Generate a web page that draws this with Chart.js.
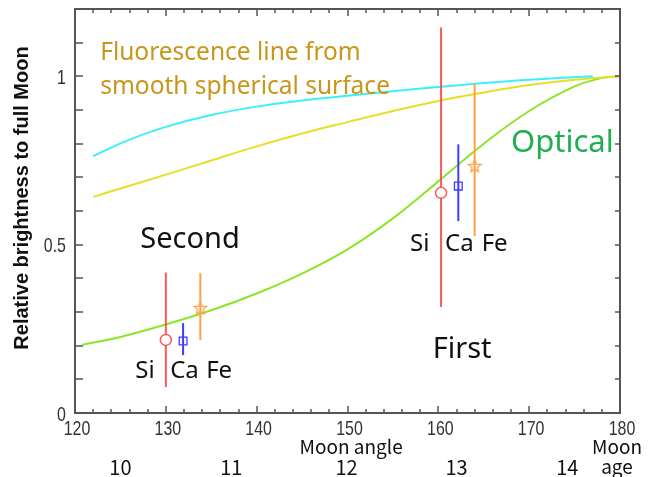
<!DOCTYPE html>
<html>
<head>
<meta charset="utf-8">
<script src="https://cdn.jsdelivr.net/npm/chart.js@4.4.0/dist/chart.umd.min.js"></script>
<style>
    html, body { margin: 0; padding: 0; background: #fff; }
</style>
</head>
<body>
<canvas id="myChart" width="649" height="477"></canvas>
<script>
// curves (moon angle in degrees -> brightness relative to full moon)
const cyanAngles = [122, 126, 130, 135, 140, 145, 150, 155, 160, 165, 170, 177];
const cyanValues = [0.763, 0.812, 0.850, 0.885, 0.910, 0.928, 0.942, 0.956, 0.968, 0.980, 0.990, 1.0];

const yellowAngles = [122, 126, 130, 135, 140, 145, 150, 155, 160, 165, 170, 175, 180];
const yellowValues = [0.642, 0.675, 0.708, 0.750, 0.792, 0.830, 0.864, 0.897, 0.927, 0.952, 0.974, 0.990, 1.0];

const opticalAngles = [120.8, 125, 130, 135, 140, 145, 150, 155, 160, 165, 170, 175, 178, 180];
const opticalValues = [0.203, 0.226, 0.263, 0.305, 0.355, 0.414, 0.486, 0.578, 0.688, 0.800, 0.897, 0.970, 0.995, 1.0];

// measurements: Second, First
const siAngle = [130.0, 160.3];
const siValue = [0.217, 0.654];
const siLow = [0.077, 0.315];
const siHigh = [0.417, 1.145];

const caAngle = [131.9, 162.2];
const caValue = [0.214, 0.674];
const caLow = [0.172, 0.570];
const caHigh = [0.267, 0.798];

const feAngle = [133.8, 164.0];
const feValue = [0.312, 0.734];
const feLow = [0.217, 0.525];
const feHigh = [0.415, 0.979];

// axis ticks
const angleTicks = [120, 130, 140, 150, 160, 170, 180];
const brightnessTicks = [0, 0.5, 1];
const moonAges = ['10', '11', '12', '13', '14'];
const moonAgeAngles = [125.0, 137.2, 149.9, 162.0, 174.2];

const red = 'rgba(255, 70, 70, 0.9)';
const blue = 'rgb(60, 60, 255)';
const orange = 'rgb(255, 160, 70)';

function points(xs, ys) {
    return xs.map((v, i) => ({x: v, y: ys[i]}));
}

function starImage(color) {
    let c = document.createElement('canvas');
    c.width = 16;
    c.height = 16;
    let g = c.getContext('2d');
    g.strokeStyle = color;
    g.lineWidth = 1.3;
    g.beginPath();
    for (let i = 0; i < 10; i++) {
        let r = i % 2 === 0 ? 6.5 : 2.8;
        let a = -Math.PI / 2 + i * Math.PI / 5;
        let px = 8 + r * Math.cos(a);
        let py = 8.5 + r * Math.sin(a);
        if (i === 0) g.moveTo(px, py); else g.lineTo(px, py);
    }
    g.closePath();
    g.stroke();
    return c;
}

const datasets = [];

// markers on top
datasets.push({
    data: points(siAngle, siValue), pointStyle: 'circle', pointRadius: 5.5,
    borderColor: red, backgroundColor: '#fff', pointBorderWidth: 1.5, showLine: false
});
datasets.push({
    data: points(caAngle, caValue), pointStyle: 'rect', pointRadius: 5.5,
    borderColor: blue, backgroundColor: 'rgba(255,255,255,0)', pointBorderWidth: 1.3, showLine: false
});
datasets.push({
    data: points(feAngle, feValue), pointStyle: starImage(orange), pointRadius: 7,
    borderColor: orange, showLine: false
});

// error bars
const bars = [
    [siAngle, siLow, siHigh, red],
    [caAngle, caLow, caHigh, blue],
    [feAngle, feLow, feHigh, orange],
];
bars.forEach(([xs, lo, hi, color]) => {
    xs.forEach((v, i) => {
        datasets.push({
            data: [{x: v, y: lo[i]}, {x: v, y: hi[i]}],
            showLine: true, borderColor: color, borderWidth: 2, pointRadius: 0
        });
    });
});

// curves
datasets.push({
    data: points(cyanAngles, cyanValues), showLine: true, borderColor: 'rgb(60, 240, 250)',
    borderWidth: 2, pointRadius: 0, tension: 0.4
});
datasets.push({
    data: points(yellowAngles, yellowValues), showLine: true, borderColor: 'rgb(232, 222, 40)',
    borderWidth: 2, pointRadius: 0, tension: 0.4
});
datasets.push({
    data: points(opticalAngles, opticalValues), showLine: true, borderColor: 'rgb(140, 230, 40)',
    borderWidth: 2, pointRadius: 0, tension: 0.4
});

const decorations = {
    id: 'decorations',
    afterDraw(chart) {
        const ctx = chart.ctx;
        const a = chart.chartArea;
        const x = chart.scales.x;
        const y = chart.scales.y;
        ctx.save();
        ctx.setLineDash([]);
        ctx.globalAlpha = 1;

        // frame + inward ticks (filled rects)
        ctx.fillStyle = '#555';
        const L = Math.round(a.left), R = Math.round(a.right);
        const T = Math.round(a.top), B = Math.round(a.bottom);
        ctx.fillRect(L - 1, T - 1, 2, B - T + 2);
        ctx.fillRect(R - 1, T - 1, 2, B - T + 2);
        ctx.fillRect(L - 1, T - 1, R - L + 2, 2);
        ctx.fillRect(L - 1, B - 1, R - L + 2, 2);
        for (let v = 120; v <= 180; v += 2) {
            let px = Math.round(x.getPixelForValue(v));
            let len = v % 10 === 0 ? 7 : 4;
            ctx.fillRect(px - 0.75, B - len, 1.5, len);
            ctx.fillRect(px - 0.75, T, 1.5, len);
        }
        for (let i = 1; i <= 11; i++) {
            let py = Math.round(y.getPixelForValue(i / 10));
            ctx.fillRect(L, py - 0.75, 8, 1.5);
            ctx.fillRect(R - 5, py - 0.75, 5, 1.5);
        }

        // tick labels (narrow)
        ctx.fillStyle = '#333';
        ctx.font = "21px 'Liberation Sans', Arial, sans-serif";
        ctx.textBaseline = 'alphabetic';
        const sx = 0.76;
        angleTicks.forEach(v => {
            let px = x.getPixelForValue(v) + 2;
            ctx.save();
            ctx.translate(px, 435);
            ctx.scale(sx, 1);
            ctx.textAlign = 'center';
            ctx.fillText(String(v), 0, 0);
            ctx.restore();
        });
        brightnessTicks.forEach(v => {
            let py = y.getPixelForValue(v);
            ctx.save();
            ctx.translate(66, py + 7.5);
            ctx.scale(sx, 1);
            ctx.textAlign = 'right';
            ctx.fillText(String(v), 0, 0);
            ctx.restore();
        });

        function text(str, vx, vy, font, color) {
            ctx.font = font;
            ctx.fillStyle = color;
            ctx.textAlign = 'left';
            ctx.textBaseline = 'alphabetic';
            ctx.fillText(str, x.getPixelForValue(vx), y.getPixelForValue(vy));
        }

        const gold = 'rgb(200, 150, 25)';
        text('Fluorescence line from', 122.77, 1.0475, "24.5px 'Noto Sans'", gold);
        text('smooth spherical surface', 122.77, 0.9487, "24.5px 'Noto Sans'", gold);
        text('Optical', 168.0, 0.7754, "31px 'Noto Sans'", 'rgb(30, 175, 80)');
        text('Second', 127.18, 0.4896, "29px 'Noto Sans'", '#111');
        text('First', 159.38, 0.1641, "29px 'Noto Sans'", '#111');
        text('Si', 126.63, 0.1039, "24px 'Noto Sans'", '#111');
        text('Ca', 130.48, 0.1039, "24px 'Noto Sans'", '#111');
        text('Fe', 134.44, 0.1039, "24px 'Noto Sans'", '#111');
        text('Si', 156.89, 0.4807, "24px 'Noto Sans'", '#111');
        text('Ca', 160.74, 0.4807, "24px 'Noto Sans'", '#111');
        text('Fe', 164.77, 0.4807, "24px 'Noto Sans'", '#111');

        // below the x axis
        ctx.fillStyle = '#111';
        ctx.textBaseline = 'middle';
        ctx.textAlign = 'center';
        ctx.font = "19px 'Noto Sans CJK JP', 'Noto Sans', sans-serif";
        ctx.fillText('Moon angle', x.getPixelForValue(150.4), 447);
        ctx.fillText('Moon', 617, 447);
        ctx.fillText('age', 617, 467);
        ctx.font = "20px 'Noto Sans CJK JP', 'Noto Sans', sans-serif";
        moonAges.forEach((t, i) => {
            ctx.fillText(t, x.getPixelForValue(moonAgeAngles[i]), 467);
        });

        // y title
        ctx.translate(22, 198);
        ctx.rotate(-Math.PI / 2);
        ctx.font = "bold 20px 'Liberation Sans', Arial, sans-serif";
        ctx.fillText('Relative brightness to full Moon', 0, 0);
        ctx.restore();
    }
};

const config = {
    type: 'scatter',
    data: {datasets: datasets},
    options: {
        responsive: false,
        animation: false,
        layout: {padding: {top: 9, right: 29, left: 0, bottom: 0}},
        plugins: {legend: {display: false}, tooltip: {enabled: false}},
        scales: {
            x: {
                type: 'linear', min: 120, max: 180,
                grid: {display: false, drawTicks: false},
                border: {display: false},
                afterBuildTicks: s => { s.ticks = angleTicks.map(v => ({value: v})); },
                afterFit: s => { s.height = 64; },
                ticks: {display: false}
            },
            y: {
                type: 'linear', min: 0, max: 1.2,
                grid: {display: false, drawTicks: false},
                border: {display: false},
                afterBuildTicks: s => { s.ticks = brightnessTicks.map(v => ({value: v})); },
                afterFit: s => { s.width = 75; },
                ticks: {display: false}
            }
        }
    },
    plugins: [decorations]
};

let myChart = new Chart(document.getElementById('myChart'), config);
</script>
</body>
</html>
